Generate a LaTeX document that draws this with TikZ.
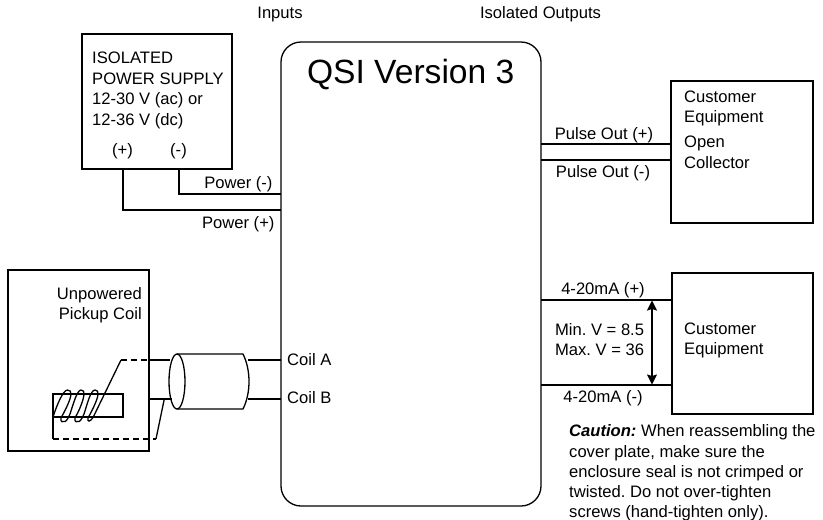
\documentclass[tikz,border=0pt]{standalone}
\usepackage{fontspec}
\setmainfont{Liberation Sans}
\usetikzlibrary{arrows.meta}
\tikzset{
 box/.style={draw,line width=1.3pt,sharp corners,anchor=north west,inner sep=0pt,outer sep=0pt},
 wire/.style={line width=1.3pt},
 dashwire/.style={line width=1.3pt,dash pattern=on 6pt off 4pt},
 lbl/.style={font=\fontsize{16.6}{20}\selectfont\frenchspacing,inner sep=0pt}
}
\begin{document}
\begin{tikzpicture}[x=1pt,y=-1pt]
\useasboundingbox (0,0) rectangle (823,520);
\node[box,minimum width=150pt,minimum height=135pt] (ps) at (82,34) {};
\node[box,minimum width=141pt,minimum height=181pt] (pc) at (8,270) {};
\node[box,minimum width=142pt,minimum height=142pt] (ce1) at (671,81) {};
\node[box,minimum width=141pt,minimum height=141pt] (ce2) at (672,273) {};
\node[draw,line width=1.3pt,rounded corners=20pt,minimum width=260pt,minimum height=464pt,anchor=north west,inner sep=0pt,outer sep=0pt] (qsi) at (281,42) {};
\node[lbl,anchor=base] (inp) at (280,18) {Inputs};
\node[lbl,anchor=base] (out) at (540.5,18) {Isolated Outputs};
\node[anchor=base,font=\fontsize{33.6}{38}\selectfont,inner sep=0pt] (ttl) at (410.7,83) {QSI Version 3};
\node[lbl,anchor=base west] (p1) at (92,63) {ISOLATED};
\node[lbl,anchor=base west] (p2) at (92,84) {POWER SUPPLY};
\node[lbl,anchor=base west] (p3) at (92,104) {12-30 V (ac) or};
\node[lbl,anchor=base west] (p4) at (92,125) {12-36 V (dc)};
\node[lbl,anchor=base] (pp) at (122.5,155) {(+)};
\node[lbl,anchor=base] (pm) at (178.5,155) {(-)};
\node[lbl,anchor=base east] (pwm) at (272.7,188) {Power (-)};
\node[lbl,anchor=base east] (pwp) at (274.7,228) {Power (+)};
\node[lbl,anchor=base east] (u1) at (142,299) {Unpowered};
\node[lbl,anchor=base east] (u2) at (142,319) {Pickup Coil};
\node[lbl,anchor=base west] (ca) at (287,365) {Coil A};
\node[lbl,anchor=base west] (cb) at (287,403) {Coil B};
\node[lbl,anchor=base] (po) at (604,139) {Pulse Out (+)};
\node[lbl,anchor=base] (mo) at (603,177) {Pulse Out (-)};
\node[lbl,anchor=base west] (c1) at (684,102) {Customer};
\node[lbl,anchor=base west] (c2) at (684,122) {Equipment};
\node[lbl,anchor=base west] (c3) at (684,147) {Open};
\node[lbl,anchor=base west] (c4) at (684,168) {Collector};
\node[lbl,anchor=base] (mp) at (603,294) {4-20mA (+)};
\node[lbl,anchor=base] (mm) at (603,402) {4-20mA (-)};
\node[lbl,anchor=base east] (v1) at (644.3,335) {Min. V = 8.5};
\node[lbl,anchor=base east] (v2) at (644.3,355) {Max. V = 36};
\node[lbl,anchor=base west] (e1) at (684,334) {Customer};
\node[lbl,anchor=base west] (e2) at (684,354) {Equipment};
\node[lbl,anchor=base west] (w1) at (569,436) {\textbf{\textit{Caution:}} When reassembling the};
\node[lbl,anchor=base west] (w2) at (569,457) {cover plate, make sure the};
\node[lbl,anchor=base west] (w3) at (569,477) {enclosure seal is not crimped or};
\node[lbl,anchor=base west] (w4) at (569,497) {twisted. Do not over-tighten};
\node[lbl,anchor=base west] (w5) at (569,517) {screws (hand-tighten only).};
% power wires
\coordinate (a1) at (179,169); \coordinate (a2) at (179,194); \coordinate (a3) at (281,194);
\coordinate (b1) at (123,169); \coordinate (b2) at (123,210); \coordinate (b3) at (281,210);
\draw[wire] (a1)--(a2)--(a3);
\draw[wire] (b1)--(b2)--(b3);
% outputs
\draw[wire] (541,144)--(671,144);
\draw[wire] (541,160)--(671,160);
\draw[wire] (541,300)--(672,300);
\draw[wire] (541,385)--(672,385);
\draw[wire,{Stealth[length=10pt,width=10pt,inset=1.5pt]}-{Stealth[length=10pt,width=10pt,inset=1.5pt]}] (652,300.5)--(652,384.5);
% cable
\draw[wire] (149,360)--(170,360);
\draw[wire] (149,399)--(172,399);
\draw[wire] (177,354)--(243,354) .. controls (251,370) and (251,393) .. (243,409)--(177,409);
\draw[wire] (177,381.5) ellipse (8 and 27.5);
\draw[wire] (248,360)--(281,360);
\draw[wire] (248,399)--(281,399);
% coil
\draw[wire] (53,394) rectangle (123,417);
\draw[dashwire] (121,360)--(149,360);
\draw[dashwire] (53,439)--(156,439);
\draw[wire] (53,417)--(53,439);
\draw[wire] (156,439)--(164.3,399);
\draw[wire,line cap=round] (53.3,416) .. controls (57,405) and (63,390) .. (67.5,390) .. controls (73,390) and (71,397) .. (68,404) .. controls (65,411) and (62,416) .. (61,418) .. controls (60,422) and (63,422.5) .. (65,421.5) .. controls (67,421) and (69,416) .. (70,414)
 .. controls (73,405) and (77,390) .. (81,390) .. controls (86,390) and (84,397) .. (81.5,404) .. controls (79,411) and (76,416) .. (75,418) .. controls (74,422) and (77,422.5) .. (79,421.5) .. controls (81,421) and (83,416) .. (84,414)
 .. controls (87,405) and (90.5,390) .. (95,390) .. controls (100,390) and (98,397) .. (95,404) .. controls (92,411) and (89,416) .. (88,418) .. controls (87,422) and (90,422.5) .. (93.3,417);
\draw[wire] (93.3,417)--(121,360);
\end{tikzpicture}
\end{document}
